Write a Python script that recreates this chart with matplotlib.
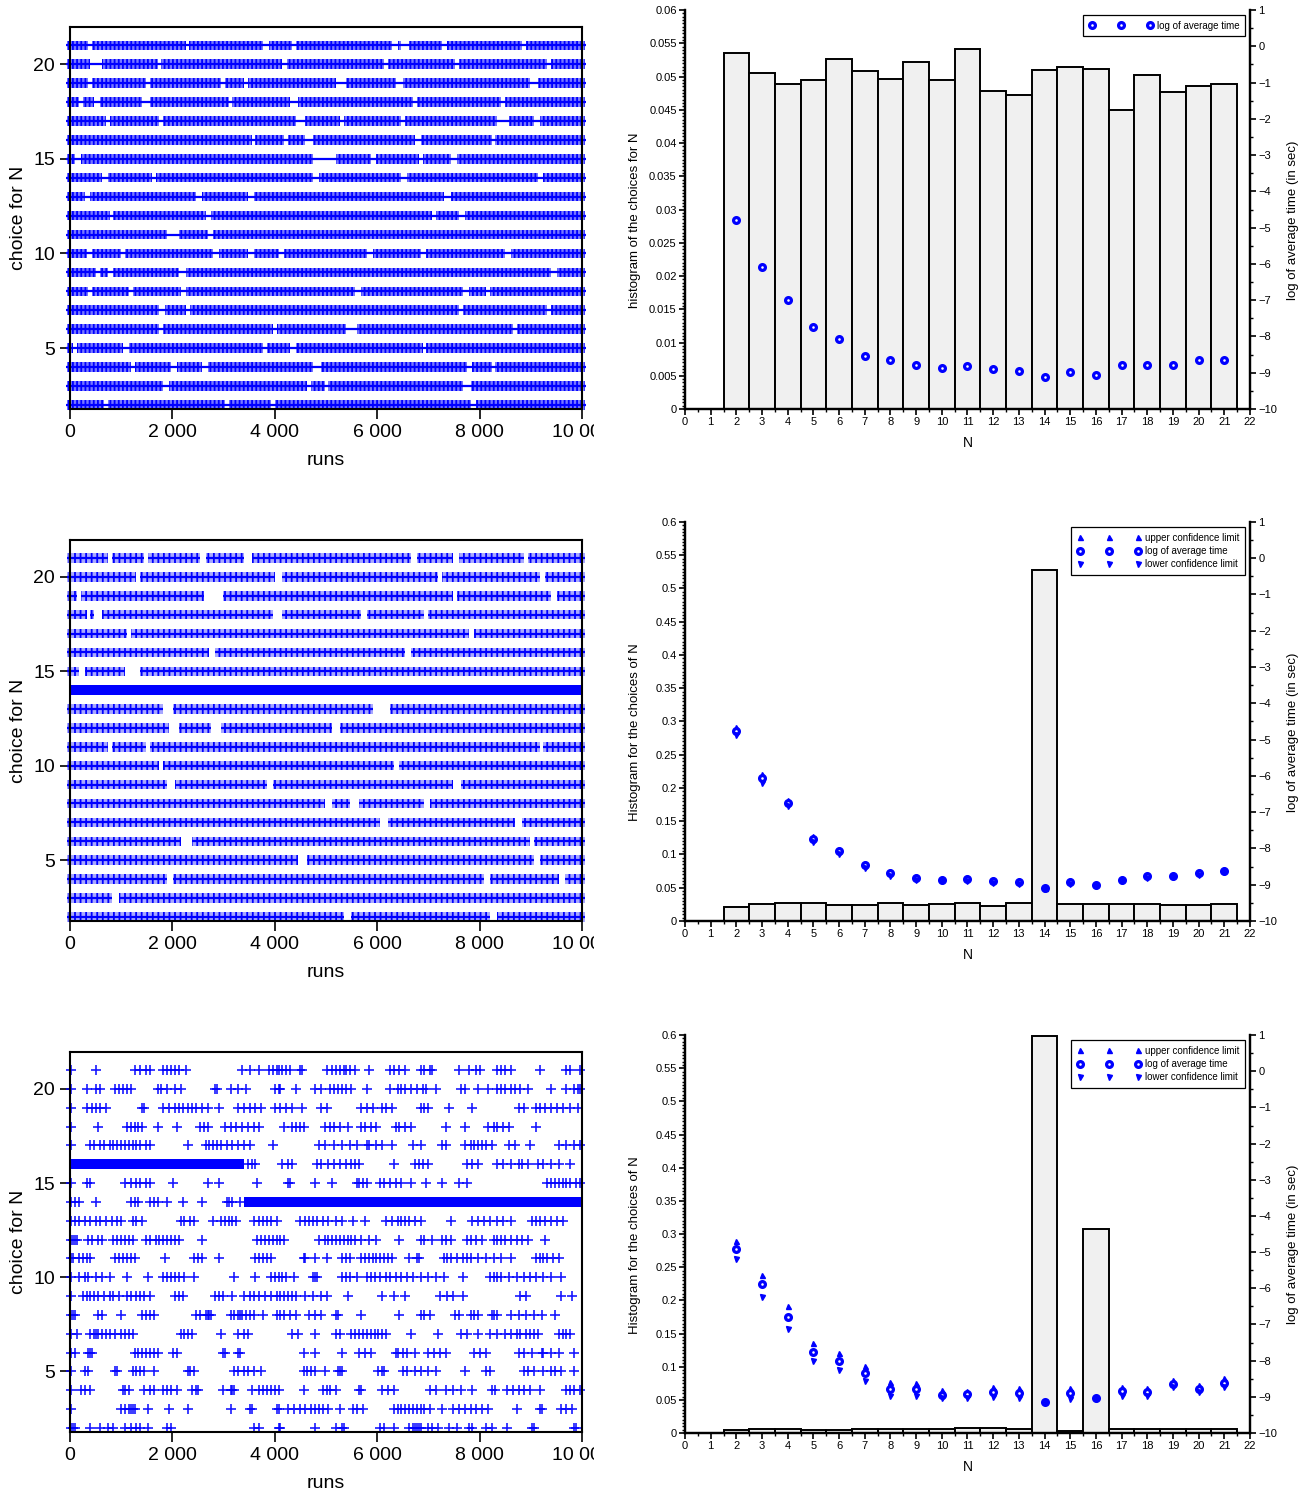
import matplotlib.pyplot as plt
from matplotlib.ticker import AutoMinorLocator, MultipleLocator
from matplotlib.transforms import Bbox, TransformedBbox

plt.rcParams['font.family'] = ['Liberation Sans', 'DejaVu Sans']
plt.rcParams['hatch.linewidth'] = 1.3
NARROW = ['Liberation Sans Narrow', 'Liberation Sans', 'DejaVu Sans']

# ---------------- right column: histogram of N and log of average time
n_values = list(range(2, 22))

hist_1 = [0.0535, 0.0505, 0.0489, 0.0495, 0.0526, 0.0509, 0.0497, 0.0522, 0.0495, 0.0541,
          0.0478, 0.0472, 0.0510, 0.0514, 0.0512, 0.0450, 0.0502, 0.0476, 0.0486, 0.0489]
log_time_1 = [-4.78, -6.09, -7.00, -7.74, -8.07, -8.55, -8.65, -8.79, -8.86, -8.82,
              -8.89, -8.94, -9.11, -8.99, -9.06, -8.80, -8.78, -8.78, -8.65, -8.64]

hist_2 = [0.0215, 0.0255, 0.0270, 0.0275, 0.0235, 0.0245, 0.0265, 0.0240, 0.0255, 0.0265,
          0.0225, 0.0275, 0.527, 0.0250, 0.0250, 0.0250, 0.0250, 0.0245, 0.0235, 0.0250]
log_time_2 = [-4.76, -6.07, -6.75, -7.73, -8.08, -8.46, -8.69, -8.82, -8.86, -8.85,
              -8.90, -8.92, -9.10, -8.93, -9.01, -8.86, -8.77, -8.75, -8.67, -8.61]
upper_2 = [-4.66, -5.95, -6.67, -7.65, -8.01, -8.39, -8.63, -8.76, -8.81, -8.80,
           -8.85, -8.87, -9.08, -8.88, -8.97, -8.81, -8.72, -8.70, -8.62, -8.56]
lower_2 = [-4.86, -6.19, -6.83, -7.81, -8.15, -8.53, -8.75, -8.88, -8.91, -8.90,
           -8.95, -8.97, -9.12, -8.98, -9.05, -8.91, -8.82, -8.80, -8.72, -8.66]

hist_3 = [0.0040, 0.0055, 0.0055, 0.0045, 0.0045, 0.0060, 0.0060, 0.0055, 0.0060, 0.0075,
          0.0075, 0.0060, 0.598, 0.0035, 0.307, 0.0060, 0.0055, 0.0055, 0.0060, 0.0060]
log_time_3 = [-4.92, -5.89, -6.79, -7.75, -8.00, -8.33, -8.77, -8.79, -8.94, -8.93,
              -8.86, -8.89, -9.13, -8.89, -9.03, -8.85, -8.87, -8.64, -8.77, -8.62]
upper_3 = [-4.70, -5.62, -6.50, -7.52, -7.79, -8.14, -8.60, -8.62, -8.82, -8.83,
           -8.73, -8.76, -9.11, -8.76, -9.01, -8.73, -8.75, -8.53, -8.66, -8.49]
lower_3 = [-5.18, -6.24, -7.12, -8.01, -8.25, -8.55, -8.98, -8.99, -9.04, -9.04,
           -9.01, -9.03, -9.15, -9.06, -9.05, -8.98, -8.99, -8.74, -8.87, -8.74]

# ---------------- left column: choice of N for each run
run_ticks = [0, 2000, 4000, 6000, 8000, 10000]
run_labels = ['0', '2 000', '4 000', '6 000', '8 000', '10 000']

# panel 1: every N chosen evenly -> dense rows, gaps (in runs) where no marks
gaps1_n21 = [(360, 435), (2272, 2332), (3772, 3885), (4335, 4410), (6285, 6397), (6472, 6622), (7267, 7372), (8835, 8910)]
gaps1_n20 = [(397, 622), (1710, 1785), (4147, 4237), (6135, 6210), (7522, 7597), (9322, 9397)]
gaps1_n19 = [(360, 435), (1485, 1560), (2947, 3022), (3397, 3472), (5197, 5385), (6360, 6510), (8985, 9135)]
gaps1_n18 = [(172, 247), (472, 585), (1410, 1560), (3097, 3172), (4297, 4447), (6697, 6772), (8422, 8497)]
gaps1_n17 = [(697, 772), (1747, 1822), (4410, 4597), (5272, 5347), (6472, 6547), (8347, 8572), (9060, 9172)]
gaps1_n16 = [(3547, 3622), (4185, 4260), (4597, 4747), (6735, 6847), (8235, 8310)]
gaps1_n15 = [(97, 210), (4747, 5197), (5872, 5985), (6810, 6885), (7447, 7560)]
gaps1_n14 = [(622, 735), (1597, 1672), (4747, 4860), (6472, 6585), (9135, 9247)]
gaps1_n13 = [(285, 397), (2460, 2572), (3472, 3585), (7297, 7447)]
gaps1_n12 = [(772, 847), (2647, 2760), (7072, 7147), (7597, 7710)]
gaps1_n11 = [(1897, 2122), (2685, 2797)]
gaps1_n10 = [(322, 435), (997, 1072), (2797, 2910), (3472, 3585), (4072, 4185), (5797, 5910), (6847, 6960), (8497, 8610)]
gaps1_n9 = [(510, 585), (735, 847), (2122, 2272), (9397, 9510)]
gaps1_n8 = [(360, 435), (1147, 1222), (2160, 2272), (5572, 5685), (7672, 7785), (8122, 8197)]
gaps1_n7 = [(1747, 1860), (2272, 2347), (7597, 7672), (9322, 9397)]
gaps1_n6 = [(1747, 1822), (3960, 4035), (5385, 5610), (8647, 8722)]
gaps1_n5 = [(60, 135), (1035, 1147), (3772, 3847), (4297, 4410), (6885, 6960)]
gaps1_n4 = [(1185, 1260), (1972, 2085), (2572, 2685), (4747, 4897), (7747, 7860), (8235, 8310)]
gaps1_n3 = [(1822, 1935), (4635, 4710), (4972, 5047), (7672, 7822)]
gaps1_n2 = [(660, 735), (3022, 3097), (3922, 3997), (7822, 7935)]

# panel 2: N = 14 taken most of the time
gaps2_n21 = [(735, 810), (1447, 1522), (2535, 2647), (3397, 3547), (6660, 6772), (7485, 7597), (8872, 8947)]
gaps2_n20 = [(1297, 1372), (3997, 4147), (7185, 7260), (9172, 9285)]
gaps2_n19 = [(135, 210), (2610, 2985), (7485, 7560), (9397, 9510)]
gaps2_n18 = [(322, 397), (472, 622), (3960, 4147), (5685, 5797), (6922, 6997)]
gaps2_n17 = [(1110, 1185), (7785, 7897)]
gaps2_n16 = [(2722, 2835), (6547, 6660)]
gaps2_n15 = [(172, 285), (1072, 1372)]
gaps2_n13 = [(1822, 2010), (5910, 6247)]
gaps2_n12 = [(1935, 2122), (2760, 2947), (5122, 5272)]
gaps2_n11 = [(735, 810), (1485, 1560), (9172, 9247)]
gaps2_n10 = [(1747, 1822), (6322, 6435)]
gaps2_n9 = [(1897, 2047), (3847, 3960), (7485, 7635)]
gaps2_n8 = [(4972, 5122), (5460, 5647), (6922, 7035)]
gaps2_n7 = [(6060, 6210), (8685, 8835)]
gaps2_n6 = [(2160, 2385), (8985, 9060)]
gaps2_n5 = [(4447, 4635), (9060, 9172)]
gaps2_n4 = [(1897, 2010), (8085, 8197), (9547, 9660)]
gaps2_n3 = [(810, 960)]
gaps2_n2 = [(5347, 5497), (8197, 8347)]
solid2_n14 = [(0, 10000)]

# panel 3: sparse choices, N = 16 then N = 14 taken almost always
solid3_n16 = [(0, 3400)]
solid3_n14 = [(3400, 10000)]
runs3_n21 = [22, 510, 1260, 1372, 1485, 1560, 1822, 1897, 1972, 2047, 2122, 2272, 3360, 3510, 3697, 3885,
             3960, 4035, 4072, 4147, 4222, 4297, 4485, 4522, 5010, 5122, 5197, 5272, 5347, 5385, 5460, 5572,
             5835, 6247, 6322, 6435, 6547, 6847, 6922, 7035, 7072, 7597, 7785, 7935, 8010, 8347, 8422, 8497,
             8610, 9172, 9697, 9772, 9960]
runs3_n20 = [22, 322, 510, 585, 885, 960, 1035, 1110, 1185, 1710, 1785, 1897, 2047, 2160, 2835, 2872, 3135,
             3285, 3435, 3997, 4072, 4110, 4410, 4785, 4897, 5085, 5160, 5235, 5310, 5385, 5497, 5797, 6247,
             6397, 6472, 6547, 6660, 6772, 6885, 6960, 7147, 7635, 7710, 7972, 8160, 8347, 8422, 8497, 8610,
             8685, 8797, 8947, 9397, 9697, 9847, 9922, 9960]
runs3_n19 = [22, 322, 435, 510, 585, 697, 1410, 1447, 1822, 1935, 2047, 2122, 2197, 2310, 2385, 2460, 2572,
             2685, 2910, 3285, 3397, 3510, 3622, 3735, 3997, 4110, 4222, 4335, 4522, 4897, 5010, 5685, 5797,
             5910, 6097, 6172, 6285, 6847, 6922, 6997, 7410, 7860, 8760, 8872, 9097, 9172, 9285, 9397, 9510,
             9622, 9772, 9922]
runs3_n18 = [22, 547, 1110, 1185, 1260, 1335, 1410, 1710, 2085, 2535, 2610, 2685, 3022, 3135, 3247, 3360,
             3472, 3585, 3697, 4185, 4335, 4410, 4485, 4560, 4972, 5085, 5160, 5272, 5422, 5685, 5760, 5872,
             5985, 6360, 6435, 6547, 6660, 7335, 7710, 8160, 8272, 8347, 8460, 8572, 9097]
runs3_n17 = [22, 397, 472, 585, 660, 772, 847, 922, 997, 1072, 1147, 1222, 1297, 1372, 1485, 1560, 2310,
             2647, 2722, 2797, 2872, 2947, 3060, 3172, 3285, 3397, 3510, 3960, 4860, 4972, 5160, 5310, 5460,
             5610, 5797, 5835, 5985, 6097, 6285, 6697, 6847, 7260, 7335, 7710, 7822, 7897, 7972, 8047, 8122,
             8235, 8572, 8685, 8985, 9547, 9697, 9847, 9960]
runs3_n16 = [3472, 3547, 3622, 4147, 4260, 4335, 4822, 4897, 5047, 5160, 5272, 5385, 5497, 5572, 5647, 6322,
             6735, 6810, 6885, 6997, 7747, 7860, 7972, 8347, 8460, 8610, 8760, 8835, 8947, 9135, 9247, 9397,
             9547, 9772]
runs3_n15 = [22, 322, 397, 1072, 1185, 1297, 1372, 1485, 1560, 2010, 2685, 2910, 3660, 4260, 4297, 4785,
             5122, 5610, 5647, 5722, 5797, 6060, 6135, 6247, 6360, 6472, 6660, 6960, 7260, 7597, 7747, 9322,
             9397, 9472, 9547, 9622, 9697, 9772, 9885, 9960]
runs3_n14 = [22, 97, 172, 510, 1185, 1260, 1335, 1560, 1635, 1710, 1897, 2197, 2572, 3060, 3097, 3172, 3322]
runs3_n13 = [22, 97, 172, 285, 397, 510, 585, 697, 810, 922, 997, 1222, 1297, 1410, 2160, 2235, 2347, 2422,
             2797, 2947, 3022, 3097, 3172, 3247, 3585, 3697, 3772, 3847, 3922, 4035, 4485, 4597, 4672, 4747,
             4822, 4935, 5047, 5197, 5310, 5535, 5760, 6172, 6285, 6397, 6472, 6547, 6622, 6735, 6847, 7447,
             7860, 7972, 8085, 8197, 8347, 8460, 8610, 9022, 9097, 9172, 9285, 9397, 9510, 9622]
runs3_n12 = [22, 60, 97, 135, 360, 435, 547, 622, 847, 922, 997, 1072, 1147, 1222, 1485, 1560, 1672, 1747,
             1822, 1897, 1972, 2047, 2122, 2572, 3660, 3735, 3810, 3885, 3960, 4035, 4110, 4185, 4860, 4972,
             5047, 5122, 5197, 5272, 5347, 5422, 5497, 5572, 5685, 5835, 5985, 6435, 6847, 6922, 7072, 7260,
             7335, 7447, 7747, 7822, 7935, 8047, 8272, 8347, 8422, 8497, 8610, 8722, 8835, 8947, 9285]
runs3_n11 = [22, 60, 172, 247, 322, 397, 885, 960, 1035, 1110, 1185, 1260, 1860, 2422, 2497, 2572, 2910,
             3622, 3697, 3772, 3847, 3922, 4560, 4597, 4785, 5010, 5310, 5385, 5460, 5685, 5760, 5835, 5910,
             5985, 6060, 6135, 6210, 6285, 6622, 6772, 6810, 7297, 7372, 7447, 7560, 7672, 7747, 7822, 7972,
             8122, 8272, 8422, 8610, 9097, 9172, 9247, 9322, 9435, 9547]
runs3_n10 = [22, 172, 285, 360, 510, 622, 772, 1110, 1522, 1822, 1897, 1972, 2047, 2122, 2235, 2422, 3210,
             3622, 3922, 3997, 4072, 4147, 4222, 4372, 4747, 4785, 4822, 5310, 5385, 5460, 5610, 5797, 5872,
             5947, 6060, 6172, 6247, 6360, 6472, 6585, 6697, 6847, 6997, 7147, 7297, 7672, 8197, 8272, 8347,
             8422, 8572, 8722, 8872, 8985, 9097, 9247, 9397, 9585]
runs3_n9 = [22, 247, 322, 397, 472, 547, 660, 772, 847, 960, 1110, 1185, 1297, 1372, 1447, 1560, 2047, 2122,
            2197, 2835, 2910, 2985, 3172, 3397, 3510, 3585, 3697, 3810, 3922, 4035, 4110, 4185, 4260, 4335,
            4410, 4597, 4747, 4897, 5010, 5422, 6097, 6322, 6547, 7222, 7372, 7485, 7672, 8797, 8910, 9585,
            9810]
runs3_n8 = [22, 60, 97, 547, 622, 997, 1410, 1485, 1560, 1635, 2460, 2535, 2647, 2685, 2722, 2760, 3135,
            3210, 3285, 3322, 3360, 3435, 3510, 3585, 3772, 4035, 4110, 4185, 4297, 4410, 4672, 4785, 4897,
            5197, 5235, 5685, 6435, 6847, 6922, 7035, 7522, 7597, 7822, 7897, 7972, 8235, 8272, 8347, 8610,
            8760, 8910, 9060, 9210, 9472]
runs3_n7 = [22, 135, 397, 472, 510, 547, 622, 697, 772, 885, 997, 1072, 1147, 1222, 2160, 2235, 2310, 2385,
            2947, 3285, 3397, 3472, 4335, 4447, 4785, 5197, 5272, 5497, 5572, 5647, 5722, 5797, 5872, 5947,
            6022, 6097, 6172, 6660, 7185, 7635, 7747, 7972, 8197, 8347, 8497, 8610, 8722, 8797, 8910, 8985,
            9060, 9135, 9547, 9622, 9697, 9772]
runs3_n6 = [22, 97, 360, 397, 435, 1260, 1335, 1410, 1485, 1560, 1635, 1710, 2010, 2085, 2985, 3022, 3285,
            3322, 4560, 4785, 5310, 5647, 5760, 5872, 6360, 6397, 6510, 6585, 6735, 6997, 7110, 7222, 7335,
            7897, 8010, 8122, 8760, 8872, 9022, 9210, 9247, 9397, 9547, 9847]
runs3_n5 = [22, 285, 360, 885, 922, 1222, 1297, 1372, 1447, 1635, 2310, 2347, 2422, 3210, 3285, 3397, 3472,
            3585, 3735, 4560, 4635, 4710, 4785, 4972, 5235, 5272, 5310, 6022, 6097, 6135, 6510, 6585, 6735,
            6847, 6997, 7147, 7710, 8122, 8197, 8872, 8947, 9060, 9247, 9397, 9472, 9585, 9847]
runs3_n4 = [22, 210, 285, 397, 1035, 1072, 1147, 1447, 1560, 1635, 1822, 1897, 1972, 2085, 2385, 2460, 2497,
            2985, 3135, 3172, 3210, 3547, 3697, 3772, 3847, 3922, 3997, 4072, 4560, 4935, 5010, 5085, 5197,
            5647, 5685, 6097, 6210, 6322, 7035, 7147, 7335, 7485, 7635, 7860, 8235, 8310, 8535, 8647, 8760,
            8872, 8985, 9172, 9697, 9772, 9847, 9960]
runs3_n3 = [22, 997, 1072, 1147, 1185, 1222, 1260, 1522, 1935, 2310, 3135, 3510, 3547, 4035, 4072, 4260,
            4372, 4485, 4597, 4710, 4785, 4860, 4935, 5047, 5272, 5535, 5610, 5722, 6322, 6397, 6472, 6547,
            6622, 6697, 6772, 6847, 6922, 7035, 7260, 7485, 7597, 7710, 7822, 7935, 8047, 8160, 8722, 9172,
            9210, 9585, 9697, 9810]
runs3_n2 = [22, 60, 97, 397, 585, 735, 847, 1072, 1185, 1297, 1372, 1522, 1897, 1972, 3585, 3697, 4072,
            4110, 4785, 5197, 5310, 5347, 6060, 6135, 6322, 6622, 6697, 6735, 6772, 6810, 6847, 6997, 7072,
            7185, 7410, 7560, 7785, 7860, 8122, 8235, 8535, 9022, 9060, 9847, 9885]

gaps_1 = {21: gaps1_n21, 20: gaps1_n20, 19: gaps1_n19, 18: gaps1_n18, 17: gaps1_n17, 16: gaps1_n16,
          15: gaps1_n15, 14: gaps1_n14, 13: gaps1_n13, 12: gaps1_n12, 11: gaps1_n11, 10: gaps1_n10,
          9: gaps1_n9, 8: gaps1_n8, 7: gaps1_n7, 6: gaps1_n6, 5: gaps1_n5, 4: gaps1_n4, 3: gaps1_n3, 2: gaps1_n2}
gaps_2 = {21: gaps2_n21, 20: gaps2_n20, 19: gaps2_n19, 18: gaps2_n18, 17: gaps2_n17, 16: gaps2_n16,
          15: gaps2_n15, 13: gaps2_n13, 12: gaps2_n12, 11: gaps2_n11, 10: gaps2_n10, 9: gaps2_n9,
          8: gaps2_n8, 7: gaps2_n7, 6: gaps2_n6, 5: gaps2_n5, 4: gaps2_n4, 3: gaps2_n3, 2: gaps2_n2}
runs_3 = {21: runs3_n21, 20: runs3_n20, 19: runs3_n19, 18: runs3_n18, 17: runs3_n17, 16: runs3_n16,
          15: runs3_n15, 14: runs3_n14, 13: runs3_n13, 12: runs3_n12, 11: runs3_n11, 10: runs3_n10,
          9: runs3_n9, 8: runs3_n8, 7: runs3_n7, 6: runs3_n6, 5: runs3_n5, 4: runs3_n4, 3: runs3_n3, 2: runs3_n2}

fig = plt.figure(figsize=(13.12, 14.96), dpi=100)
label_clip = TransformedBbox(Bbox([[0, 0], [594 / 1312, 1]]), fig.transFigure)


def spans_from_gaps(gaps):
    spans = []
    start = -60
    for a, b in gaps:
        spans.append((start, a - start))
        start = b
    spans.append((start, 10060 - start))
    return spans


def runs_panel(box, gaps=None, band_color='blue', hatch='||||', line_through=True, solid=None, marks=None):
    ax = fig.add_axes(box)
    if gaps:
        for n, g in gaps.items():
            spans = spans_from_gaps(g)
            ax.broken_barh(spans, (n - 0.25, 0.5), facecolors=band_color, edgecolors='blue',
                           hatch=hatch, linewidth=0, clip_on=False)
            if line_through:
                ax.hlines(n, -70, 10070, colors='blue', lw=1.6, clip_on=False)
            else:
                ax.hlines([n] * len(spans), [s for s, w in spans], [s + w for s, w in spans],
                          colors='blue', lw=1.6, clip_on=False)
    if solid:
        for n, sp in solid.items():
            ax.broken_barh([(a, b - a) for a, b in sp], (n - 0.27, 0.54), facecolors='blue',
                           linewidth=0, clip_on=False)
            ax.hlines(n, sp[0][0], sp[-1][1], colors='blue', lw=1.6, clip_on=False)
    if marks:
        for n, xs in marks.items():
            ax.plot(xs, [n] * len(xs), '+', color='blue', ms=7.5, mew=1.2, alpha=0.9, clip_on=False)
    ax.set_xlim(0, 10000)
    ax.set_ylim(1.78, 21.96)
    ax.set_xticks(run_ticks)
    ax.set_xticklabels(run_labels)
    ax.set_yticks([5, 10, 15, 20])
    ax.tick_params(direction='out', length=7, width=1.2, labelsize=14, pad=4)
    for sp in ax.spines.values():
        sp.set_linewidth(1.5)
        sp.set_zorder(5)
    ax.set_xlabel('runs', fontsize=14)
    ax.xaxis.set_label_coords(0.5, -0.112)
    ax.set_ylabel('choice for N', fontsize=14)
    ax.yaxis.set_label_coords(-0.084, 0.5)
    for lbl in ax.get_xticklabels():
        lbl.set_clip_on(True)
        lbl.set_clip_box(label_clip)
    return ax


def hist_panel(box, hist, log_time, upper, lower, ylabel, ymax, step):
    ax = fig.add_axes(box)
    ax.bar(n_values, hist, width=1.0, color='#f0f0f0', edgecolor='black', linewidth=1.4)
    ax.set_xlim(0, 22)
    ax.set_ylim(0, ymax)
    ax.xaxis.set_major_locator(MultipleLocator(1))
    ax.xaxis.set_minor_locator(AutoMinorLocator(2))
    ax.yaxis.set_major_locator(MultipleLocator(step))
    ax.yaxis.set_minor_locator(AutoMinorLocator(10))
    ax.yaxis.set_major_formatter(lambda v, p: ('%.3f' % v).rstrip('0').rstrip('.') if v else '0')
    ax.spines['top'].set_visible(False)

    ax2 = ax.twinx()
    if upper is not None:
        ax2.plot(n_values, upper, '^', color='blue', ms=3.6, ls='none', label='upper confidence limit')
    ax2.plot(n_values, log_time, 'o', ms=4.2, mfc='white', mec='blue', mew=2.3, ls='none',
             label='log of average time')
    if lower is not None:
        ax2.plot(n_values, lower, 'v', color='blue', ms=3.6, ls='none', label='lower confidence limit')
    ax2.set_ylim(-10, 1)
    ax2.yaxis.set_major_locator(MultipleLocator(1))
    ax2.yaxis.set_minor_locator(AutoMinorLocator(2))
    ax2.spines['top'].set_visible(False)

    for a in (ax, ax2):
        for sp in a.spines.values():
            sp.set_linewidth(1.6)
        a.tick_params(which='major', direction='out', length=4, width=1.2, labelsize=8, pad=2)
        a.tick_params(which='minor', direction='out', length=2, width=1.0)
        for lbl in a.get_xticklabels() + a.get_yticklabels():
            lbl.set_family(NARROW)

    ax.set_xlabel('N', fontsize=10)
    ax.xaxis.set_label_coords(0.5, -0.068)
    ax.set_ylabel(ylabel, fontsize=9.5)
    ax.yaxis.set_label_coords(-0.078, 0.473)
    ax2.set_ylabel('log of average time (in sec)', fontsize=9.5)
    ax2.yaxis.set_label_coords(1.066, 0.473)

    leg = ax2.legend(loc='upper right', bbox_to_anchor=(0.992, 0.988), numpoints=3, handlelength=6.6,
                     handletextpad=0.4, labelspacing=0.35, borderpad=0.6, borderaxespad=0,
                     fancybox=False, framealpha=1, edgecolor='black', prop={'family': NARROW, 'size': 7})
    leg.get_frame().set_linewidth(0.9)
    return ax, ax2


runs_panel((0.0534, 0.7266, 0.3902, 0.2553), gaps=gaps_1, band_color='#7878ff', hatch='||||',
           line_through=True)
runs_panel((0.0534, 0.3844, 0.3902, 0.2547), gaps=gaps_2, band_color='#a8a8ff', hatch='|||',
           line_through=False, solid={14: solid2_n14})
runs_panel((0.0534, 0.0428, 0.3902, 0.2540), solid={16: solid3_n16, 14: solid3_n14}, marks=runs_3)

hist_panel((0.5221, 0.7266, 0.4306, 0.2667), hist_1, log_time_1, None, None,
           'histogram of the choices for N', 0.06, 0.005)
hist_panel((0.5221, 0.3844, 0.4306, 0.2667), hist_2, log_time_2, upper_2, lower_2,
           'Histogram for the choices of N', 0.6, 0.05)
hist_panel((0.5221, 0.0421, 0.4306, 0.2660), hist_3, log_time_3, upper_3, lower_3,
           'Histogram for the choices of N', 0.6, 0.05)

fig.savefig('out.png', dpi=100)
